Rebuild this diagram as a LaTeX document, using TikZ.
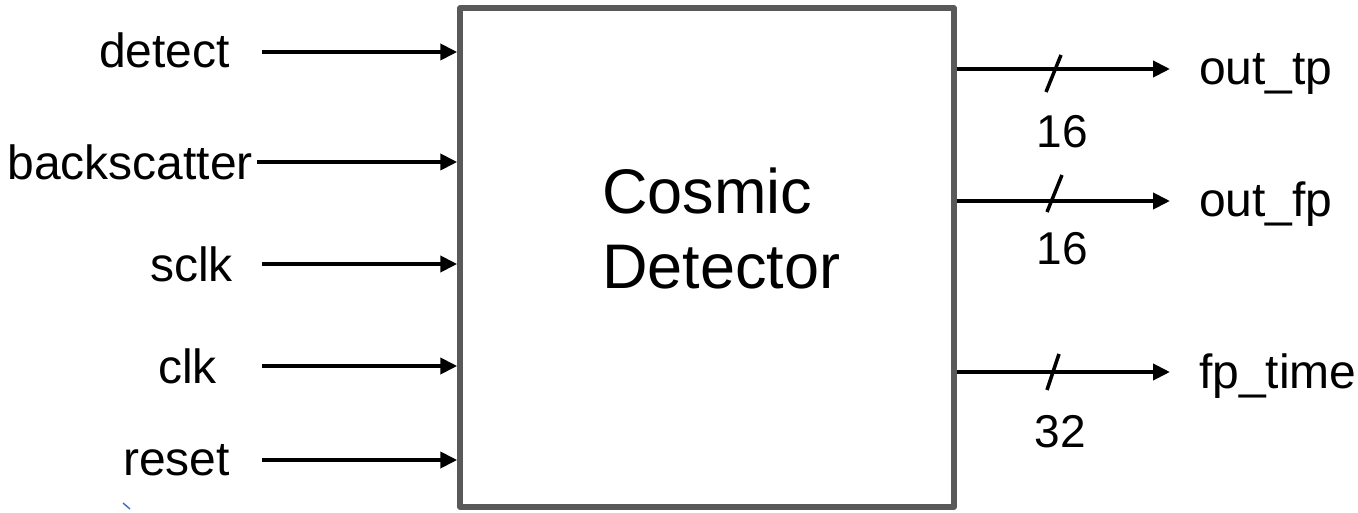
\documentclass[tikz,border=0pt]{standalone}
\usepackage{fontspec}
\setmainfont{Liberation Sans}
\usetikzlibrary{arrows.meta}
\definecolor{boxgray}{HTML}{595959}
\definecolor{artblue}{HTML}{4472C4}
\begin{document}
\begin{tikzpicture}[x=1pt,y=-1pt,
  lbl/.style={inner sep=0pt,font=\fontsize{48}{52}\selectfont},
  num/.style={inner sep=0pt,font=\fontsize{46}{50}\selectfont},
  sig/.style={line width=4pt,-{Triangle[length=17pt,width=16pt]}},
  slashmark/.style={line width=3.5pt},
  blockbox/.style={draw=boxgray,line width=5.5pt,line join=round,minimum width=494pt,minimum height=499pt,inner sep=0pt}]
\useasboundingbox (0,0) rectangle (1358,513);
\node[blockbox] (box) at (707,257.5) {};
\node[anchor=base west,inner sep=0pt,align=left,font=\fontsize{63}{75}\selectfont] (title) at (602,288) {Cosmic\\Detector};
% inputs
\node[lbl,anchor=base east] (ldetect) at (230,68) {detect};
\node[lbl,anchor=base east] (lback) at (253,180) {backscatter};
\node[lbl,anchor=base east] (lsclk) at (233,282) {sclk};
\node[lbl,anchor=base east] (lclk) at (217,383) {clk};
\node[lbl,anchor=base east] (lreset) at (230,475) {reset};
\coordinate (i1) at (262,52);
\coordinate (i2) at (257,162);
\coordinate (i3) at (262,264);
\coordinate (i4) at (262,366);
\coordinate (i5) at (262,460);
\foreach \i in {1,...,5}{\draw[sig] (i\i) -- (i\i -| box.west);}
% outputs
\coordinate (o1) at (1170,69);
\coordinate (o2) at (1170,201);
\coordinate (o3) at (1170,372);
\foreach \i in {1,2,3}{\draw[sig] (o\i -| box.east) -- (o\i);}
\node[lbl,anchor=base west] (lout1) at (1199,85) {out\_tp};
\node[lbl,anchor=base west] (lout2) at (1199,217) {out\_fp};
\node[lbl,anchor=base west] (lout3) at (1199,388) {fp\_time};
% bus width marks
\draw[slashmark] (1046,92) -- (1061,55);
\draw[slashmark] (1047,212) -- (1062,175);
\draw[slashmark] (1047,390) -- (1059,354);
\node[num,anchor=base] (n1) at (1062,148) {16};
\node[num,anchor=base] (n2) at (1062,265) {16};
\node[num,anchor=base] (n3) at (1060,447) {32};
% small artifact
\draw[artblue,line width=1.5pt] (123,503) -- (130,509);
\end{tikzpicture}
\end{document}
